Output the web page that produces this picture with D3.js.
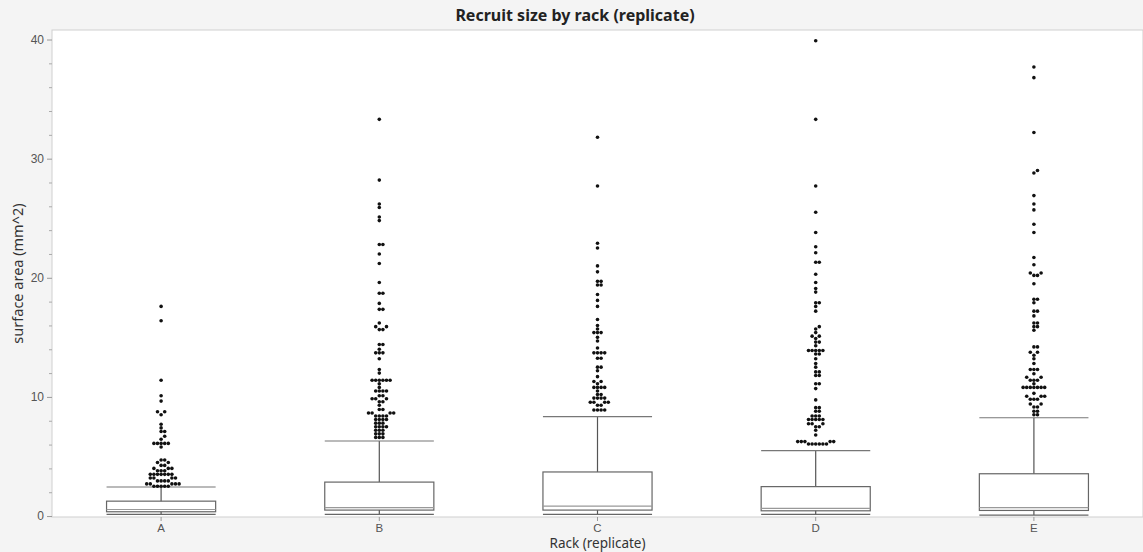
<!DOCTYPE html>
<html>
<head>
<meta charset="utf-8">
<script src="https://cdn.jsdelivr.net/npm/d3@7"></script>
<style>
  body { margin: 0; background: #f4f4f4; }
  svg { display: block; font-family: "Noto Sans", "Open Sans", sans-serif; }
</style>
</head>
<body>
<svg id="chart" width="1143" height="552"></svg>
<script>

// categories (racks)
var racks = ["A", "B", "C", "D", "E"];

// box stats: lower whisker, q1, median, q3, upper whisker
var lowWhisker = [0.14, 0.14, 0.14, 0.14, 0.08];
var q1 = [0.36, 0.5, 0.5, 0.44, 0.47];
var median = [0.55, 0.7, 0.83, 0.64, 0.7];
var q3 = [1.25, 2.85, 3.7, 2.47, 3.55];
var highWhisker = [2.44, 6.3, 8.35, 5.5, 8.25];

// outlier points per rack
var outA = [17.6, 16.4, 11.4, 10.1, 9.65, 8.75, 8.75, 8.5, 7.7, 7.4, 7.1, 7.1, 6.7, 6.45,
  6.1, 6.1, 6.1, 6.1, 6.1, 5.8, 4.7, 4.7, 4.5, 4.5, 4.25, 4.25, 4.0, 4.0, 4.0,
  3.8, 3.8, 3.8, 3.5, 3.5, 3.5, 3.5, 3.5, 3.5, 3.5, 3.2, 3.2, 3.2, 3.2,
  2.95, 2.95, 2.95, 2.95, 2.7, 2.7, 2.7, 2.7, 2.7, 2.5, 2.5, 2.5, 2.5, 2.5];
var outB = [33.3, 28.2, 26.2, 25.9, 25.1, 24.8, 22.8, 22.8, 22.0, 21.2, 19.6, 18.7, 18.7,
  17.85, 17.35, 17.35, 16.2, 15.9, 15.9, 15.65, 15.65, 14.4, 14.4, 14.0, 13.7, 13.7, 13.7,
  13.2, 12.3, 12.0, 11.4, 11.4, 11.4, 11.4, 11.4, 11.4, 11.1, 10.8, 10.5, 10.5, 10.5, 10.5,
  10.1, 10.1, 9.85, 9.85, 9.85, 9.6, 9.6, 9.3, 8.95, 8.95, 8.65, 8.65, 8.65, 8.65,
  8.4, 8.4, 8.4, 8.4, 8.1, 8.1, 8.1, 8.1, 7.8, 7.8, 7.8, 7.5, 7.5, 7.5, 7.5,
  7.2, 7.2, 7.2, 6.9, 6.9, 6.9, 6.6, 6.6, 6.6];
var outC = [31.8, 27.7, 22.9, 22.5, 21.0, 20.5, 19.7, 19.7, 19.4, 19.4, 18.6, 18.1, 17.6,
  16.5, 16.0, 15.7, 15.4, 15.4, 15.4, 15.0, 14.7, 14.1, 13.7, 13.7, 13.7, 13.7, 13.25, 13.25,
  12.5, 12.5, 12.2, 11.7, 11.3, 11.3, 11.1, 10.8, 10.8, 10.8, 10.8, 10.5, 10.2, 10.2,
  9.9, 9.9, 9.9, 9.9, 9.55, 9.55, 9.55, 9.55, 9.3, 9.3, 8.9, 8.9, 8.9, 8.9];
var outD = [39.9, 33.3, 27.7, 25.5, 23.8, 22.6, 22.1, 21.3, 21.3, 20.3, 19.6, 19.1, 18.8,
  17.9, 17.9, 17.6, 17.2, 15.9, 15.7, 15.4, 15.1, 15.1, 14.9, 14.6, 14.6, 14.3,
  13.9, 13.9, 13.9, 13.9, 13.9, 13.6, 13.6, 13.2, 12.8, 12.5, 12.1, 12.1, 11.8, 11.8,
  11.1, 11.1, 10.7, 9.75, 9.1, 9.1, 8.8, 8.8, 8.4, 8.4, 8.4, 8.1, 8.1, 8.1, 8.1, 8.1,
  7.75, 7.75, 7.75, 7.5, 7.5, 7.2, 6.8, 6.25, 6.25, 6.25, 6.25, 6.25,
  6.05, 6.05, 6.05, 6.05, 6.05, 6.05];
var outE = [37.7, 36.8, 32.2, 29.0, 28.8, 26.9, 26.2, 25.7, 24.5, 23.8, 21.7, 21.1,
  20.4, 20.4, 20.2, 20.2, 19.5, 18.2, 18.2, 17.9, 17.2, 17.2, 16.8, 16.2, 16.2, 15.9, 15.9,
  15.6, 14.2, 14.2, 13.75, 13.75, 13.5, 13.2, 12.8, 12.3, 12.3, 12.3, 11.95, 11.65, 11.65,
  11.4, 11.4, 11.4, 11.1, 10.8, 10.8, 10.8, 10.8, 10.8, 10.8, 10.8, 10.3,
  10.05, 10.05, 10.05, 9.8, 9.8, 9.8, 9.4, 9.4, 9.15, 9.15, 8.8, 8.8, 8.5, 8.5];
var outliers = [outA, outB, outC, outD, outE];

var yTicks = [0, 10, 20, 30, 40];

var plotLeft = 52, plotRight = 1143, plotTop = 30, plotBottom = 517;
var svg = d3.select("#chart");

var x = d3.scaleBand().domain(racks).range([plotLeft, plotRight]).padding(0);
var y = d3.scaleLinear().domain([-0.08, 40.8]).range([plotBottom, plotTop]);

// white plot area
svg.append("rect")
  .attr("x", plotLeft).attr("y", plotTop)
  .attr("width", plotRight - plotLeft).attr("height", plotBottom - plotTop)
  .attr("fill", "#fff").attr("stroke", "#cfcfcf");

// title
svg.append("text")
  .attr("x", 575).attr("y", 21)
  .attr("text-anchor", "middle")
  .style("font-size", "16px").style("font-weight", "bold").attr("fill", "#222")
  .text("Recruit size by rack (replicate)");

// y axis, minor ticks first
var minor = svg.append("g").attr("transform", "translate(" + plotLeft + ",0)")
  .call(d3.axisLeft(y).tickValues(d3.range(0, 41, 2).filter(function(v) { return v % 10; }))
    .tickSize(3).tickFormat(""));
minor.select(".domain").remove();
minor.selectAll("line").attr("stroke", "#aaa");

var yAxis = svg.append("g").attr("transform", "translate(" + plotLeft + ",0)")
  .call(d3.axisLeft(y).tickValues(yTicks).tickSize(5).tickPadding(3));
yAxis.select(".domain").remove();
yAxis.selectAll("line").attr("stroke", "#999");
yAxis.selectAll("text").style("font-size", "12px").attr("fill", "#555");

// x axis
var xAxis = svg.append("g").attr("transform", "translate(0," + plotBottom + ")")
  .call(d3.axisBottom(x).tickSize(4).tickPadding(3));
xAxis.select(".domain").remove();
xAxis.selectAll("line").attr("stroke", "#999");
xAxis.selectAll("text").style("font-size", "11.5px").attr("fill", "#555");

// axis titles
svg.append("text")
  .attr("transform", "translate(23," + ((plotTop + plotBottom) / 2) + ") rotate(-90)")
  .attr("text-anchor", "middle")
  .style("font-size", "14.5px").attr("fill", "#333")
  .text("surface area (mm^2)");

svg.append("text")
  .attr("x", (plotLeft + plotRight) / 2).attr("y", 548)
  .attr("text-anchor", "middle")
  .style("font-size", "13.5px").attr("fill", "#333")
  .text("Rack (replicate)");

// boxes
var boxW = x.bandwidth() * 0.5;
racks.forEach(function(r, i) {
  var cx = x(r) + x.bandwidth() / 2;
  var g = svg.append("g").attr("class", "box");
  var line = function(x1, y1, x2, y2, col) {
    g.append("line").attr("x1", x1).attr("y1", y1).attr("x2", x2).attr("y2", y2)
      .attr("stroke", col || "#555").attr("stroke-width", 1.2);
  };

  // whiskers
  line(cx, y(highWhisker[i]), cx, y(q3[i]));
  line(cx, y(q1[i]), cx, y(lowWhisker[i]));
  line(cx - boxW / 2, y(highWhisker[i]), cx + boxW / 2, y(highWhisker[i]), "#777");
  line(cx - boxW / 2, y(lowWhisker[i]), cx + boxW / 2, y(lowWhisker[i]), "#666");

  g.append("rect")
    .attr("x", cx - boxW / 2).attr("y", y(q3[i]))
    .attr("width", boxW).attr("height", y(q1[i]) - y(q3[i]))
    .attr("fill", "none").attr("stroke", "#666").attr("stroke-width", 1.2);
  line(cx - boxW / 2, y(median[i]), cx + boxW / 2, y(median[i]), "#999");

  // outlier dots, simple beeswarm so equal values spread sideways
  var placed = [];
  var step = 3.6, r0 = 1.8;
  outliers[i].slice().sort(d3.ascending).forEach(function(v) {
    var py = y(v);
    for (var k = 0; k < 40; k++) {
      var off = (k % 2 ? 1 : -1) * Math.ceil(k / 2) * step;
      var hit = placed.some(function(p) {
        return Math.hypot(p.x - off, p.y - py) < 3.5;
      });
      if (!hit) { placed.push({x: off, y: py}); break; }
    }
  });
  g.selectAll("circle").data(placed).enter().append("circle")
    .attr("cx", function(d) { return cx + d.x; })
    .attr("cy", function(d) { return d.y; })
    .attr("r", r0).attr("fill", "#111");
});

</script>
</body>
</html>
